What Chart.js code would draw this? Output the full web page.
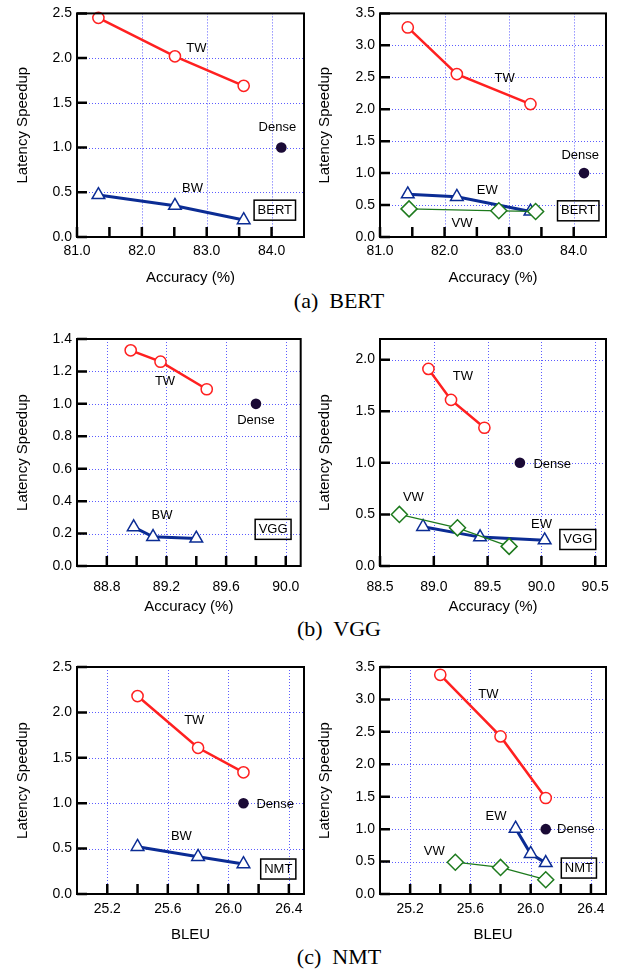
<!DOCTYPE html>
<html>
<head>
<meta charset="utf-8">
<script src="https://cdn.jsdelivr.net/npm/chart.js@4.4.0/dist/chart.umd.min.js"></script>
<style>
  body { margin: 0; background: #fff; width: 626px; height: 972px; position: relative; overflow: hidden; }
  canvas { position: absolute; }
  .cap { position: absolute; left: 0; width: 678px; text-align: center; font-family: "Liberation Serif", serif; font-size: 22px; line-height: 22px; color: #000; }
</style>
</head>
<body>
<canvas id="c1" width="313" height="287" style="left:0;top:0"></canvas>
<canvas id="c2" width="313" height="287" style="left:313px;top:0"></canvas>
<div class="cap" style="top:290px">(a)&nbsp; BERT</div>
<canvas id="c3" width="313" height="296" style="left:0;top:320px"></canvas>
<canvas id="c4" width="313" height="296" style="left:313px;top:320px"></canvas>
<div class="cap" style="top:618px">(b)&nbsp; VGG</div>
<canvas id="c5" width="313" height="304" style="left:0;top:640px"></canvas>
<canvas id="c6" width="313" height="304" style="left:313px;top:640px"></canvas>
<div class="cap" style="top:946px">(c)&nbsp; NMT</div>
<script>
// (a) BERT, left
const bertTwAcc = [81.33, 82.51, 83.57];
const bertTwSpeed = [2.45, 2.02, 1.69];
const bertBwAcc = [81.33, 82.51, 83.57];
const bertBwSpeed = [0.47, 0.35, 0.19];
const bertDenseAcc = [84.15];
const bertDenseSpeed = [1.0];
// (a) BERT, right
const bert2TwAcc = [81.43, 82.19, 83.33];
const bert2TwSpeed = [3.28, 2.55, 2.08];
const bert2EwAcc = [81.43, 82.19, 83.33];
const bert2EwSpeed = [0.67, 0.63, 0.40];
const bert2VwAcc = [81.45, 82.84, 83.41];
const bert2VwSpeed = [0.44, 0.41, 0.40];
const bert2DenseAcc = [84.16];
const bert2DenseSpeed = [1.0];
// (b) VGG, left
const vggTwAcc = [88.96, 89.16, 89.47];
const vggTwSpeed = [1.33, 1.26, 1.09];
const vggBwAcc = [88.98, 89.11, 89.40];
const vggBwSpeed = [0.24, 0.18, 0.17];
const vggDenseAcc = [89.80];
const vggDenseSpeed = [1.0];
// (b) VGG, right
const vgg2TwAcc = [88.95, 89.16, 89.47];
const vgg2TwSpeed = [1.91, 1.61, 1.34];
const vgg2EwAcc = [88.90, 89.43, 90.03];
const vgg2EwSpeed = [0.38, 0.28, 0.25];
const vgg2VwAcc = [88.68, 89.22, 89.70];
const vgg2VwSpeed = [0.50, 0.37, 0.19];
const vgg2DenseAcc = [89.80];
const vgg2DenseSpeed = [1.0];
// (c) NMT, left
const nmtTwBleu = [25.4, 25.8, 26.1];
const nmtTwSpeed = [2.18, 1.61, 1.34];
const nmtBwBleu = [25.4, 25.8, 26.1];
const nmtBwSpeed = [0.52, 0.41, 0.33];
const nmtDenseBleu = [26.1];
const nmtDenseSpeed = [1.0];
// (c) NMT, right
const nmt2TwBleu = [25.4, 25.8, 26.1];
const nmt2TwSpeed = [3.38, 2.43, 1.48];
const nmt2EwBleu = [25.9, 26.0, 26.1];
const nmt2EwSpeed = [1.01, 0.62, 0.48];
const nmt2VwBleu = [25.5, 25.8, 26.1];
const nmt2VwSpeed = [0.49, 0.41, 0.22];
const nmt2DenseBleu = [26.1];
const nmt2DenseSpeed = [1.0];

// tick labels
const bertAccTicks = [81.0, 82.0, 83.0, 84.0];
const bertAccMinor = [81.5, 82.5, 83.5];
const bertSpeedTicks = [0.0, 0.5, 1.0, 1.5, 2.0, 2.5];
const bert2SpeedTicks = [0.0, 0.5, 1.0, 1.5, 2.0, 2.5, 3.0, 3.5];
const vggAccTicks = [88.8, 89.2, 89.6, 90.0];
const vggAccMinor = [89.0, 89.4, 89.8];
const vggSpeedTicks = [0.0, 0.2, 0.4, 0.6, 0.8, 1.0, 1.2, 1.4];
const vgg2AccTicks = [88.5, 89.0, 89.5, 90.0, 90.5];
const vgg2SpeedTicks = [0.0, 0.5, 1.0, 1.5, 2.0];
const nmtBleuTicks = [25.2, 25.6, 26.0, 26.4];
const nmtBleuMinor = [25.4, 25.8, 26.2];
const nmtSpeedTicks = [0.0, 0.5, 1.0, 1.5, 2.0, 2.5];
const nmt2SpeedTicks = [0.0, 0.5, 1.0, 1.5, 2.0, 2.5, 3.0, 3.5];

Chart.defaults.font.family = '"Liberation Sans", Arial, sans-serif';
Chart.defaults.color = '#000';

const RED = '#ff2020', NAVY = '#0b2c94', GREEN = '#1d7a1d', DENSE = '#1a0a35';

function pts(xs, ys) { return xs.map((x, i) => ({ x: x, y: ys[i] })); }

function tw(xs, ys) {
    return { data: pts(xs, ys), showLine: true, borderColor: RED, borderWidth: 2.5,
        pointStyle: 'circle', pointRadius: 5.6, pointBorderWidth: 1.5,
        pointBorderColor: RED, pointBackgroundColor: '#fff', order: 3 };
}
function tri(xs, ys) {
    return { data: pts(xs, ys), showLine: true, borderColor: NAVY, borderWidth: 3,
        pointStyle: 'triangle', pointRadius: 7.3, pointBorderWidth: 1.5,
        pointBorderColor: NAVY, pointBackgroundColor: '#fff', order: 2 };
}
function dia(xs, ys) {
    return { data: pts(xs, ys), showLine: true, borderColor: GREEN, borderWidth: 1.3,
        pointStyle: 'rectRot', pointRadius: 8, pointBorderWidth: 1.5,
        pointBorderColor: GREEN, pointBackgroundColor: '#fff', order: 1 };
}
function dense(xs, ys) {
    return { data: pts(xs, ys), showLine: false, pointStyle: 'circle', pointRadius: 5.3,
        pointBorderWidth: 0, pointBackgroundColor: DENSE, order: 0 };
}

// grid, frame, inner ticks and in-plot notes
const framePlugin = {
    id: 'frame',
    beforeDatasetsDraw(chart, args, opts) {
        const { ctx, chartArea: a, scales: { x, y } } = chart;
        ctx.save();
        ctx.strokeStyle = '#5c5cff';
        ctx.lineWidth = 1;
        ctx.setLineDash([1, 2]);
        ctx.beginPath();
        opts.xMajor.forEach(v => {
            const px = Math.round(x.getPixelForValue(v)) + 0.5;
            if (px > a.left + 2 && px < a.right - 2) { ctx.moveTo(px, a.top); ctx.lineTo(px, a.bottom); }
        });
        opts.yMajor.forEach(v => {
            const py = Math.round(y.getPixelForValue(v)) + 0.5;
            if (py > a.top + 2 && py < a.bottom - 2) { ctx.moveTo(a.left, py); ctx.lineTo(a.right, py); }
        });
        ctx.stroke();
        ctx.restore();
    },
    afterDatasetsDraw(chart, args, opts) {
        const { ctx, chartArea: a, scales: { x, y } } = chart;
        ctx.save();
        ctx.strokeStyle = '#000';
        ctx.lineWidth = 2;
        ctx.strokeRect(a.left, a.top, a.width, a.height);
        ctx.lineWidth = 2.5;
        ctx.beginPath();
        x.ticks.forEach(t => {
            const px = x.getPixelForValue(t.value);
            ctx.moveTo(px, a.bottom); ctx.lineTo(px, a.bottom - 10);
        });
        y.ticks.forEach(t => {
            const py = y.getPixelForValue(t.value);
            ctx.moveTo(a.left, py); ctx.lineTo(a.left + 10, py);
        });
        ctx.stroke();
        ctx.font = '13px "Liberation Sans", Arial, sans-serif';
        ctx.textAlign = 'center';
        ctx.textBaseline = 'middle';
        ctx.fillStyle = '#000';
        opts.notes.forEach(n => {
            const px = x.getPixelForValue(n.x), py = y.getPixelForValue(n.y);
            ctx.fillText(n.text, px, py);
            if (n.box) {
                const w = ctx.measureText(n.text).width + 7;
                ctx.lineWidth = 1.5;
                ctx.strokeRect(px - w / 2, py - 10, w, 20);
            }
        });
        ctx.restore();
    }
};

function panel(id, p) {
    const xAll = p.xMajor.concat(p.xMinor || []).sort((a, b) => a - b);
    const isMajor = v => p.xMajor.some(m => Math.abs(m - v) < 1e-6);
    return new Chart(document.getElementById(id), {
        type: 'scatter',
        data: { datasets: p.datasets },
        plugins: [framePlugin],
        options: {
            responsive: false,
            animation: false,
            layout: { padding: p.pad },
            plugins: {
                legend: { display: false },
                tooltip: { enabled: false },
                frame: { xMajor: p.xMajor, yMajor: p.yTicks, notes: p.notes }
            },
            clip: false,
            scales: {
                x: {
                    type: 'linear', min: p.xMin, max: p.xMax,
                    afterBuildTicks: s => { s.ticks = xAll.map(v => ({ value: v })); },
                    afterFit: s => { s.height = 50; },
                    grid: { display: false, drawTicks: false },
                    border: { display: false },
                    ticks: { autoSkip: false, maxRotation: 0, padding: p.xTickPad,
                        font: { size: 14 },
                        callback: v => isMajor(v) ? v.toFixed(1) : '' },
                    title: { display: true, text: p.xTitle, font: { size: 15 }, padding: 0 }
                },
                y: {
                    type: 'linear', min: p.yMin, max: p.yMax,
                    afterBuildTicks: s => { s.ticks = p.yTicks.map(v => ({ value: v })); },
                    afterFit: s => { s.width = p.yWidth; },
                    grid: { display: false, drawTicks: false },
                    border: { display: false },
                    ticks: { autoSkip: false, padding: 5, font: { size: 14 },
                        callback: v => v.toFixed(1) },
                    title: { display: true, text: 'Latency Speedup', font: { size: 15 },
                        padding: { top: p.yTitlePad, bottom: 0 } }
                }
            }
        }
    });
}

const leftPad = top => ({ top: top, right: 9, left: 0, bottom: 0 });
const rightPad = top => ({ top: top, right: 20, left: 0, bottom: 0 });

panel('c1', {
    xMin: 81.0, xMax: 84.5, yMin: 0, yMax: 2.5,
    xMajor: bertAccTicks, xMinor: bertAccMinor, yTicks: bertSpeedTicks,
    xTitle: 'Accuracy (%)', pad: leftPad(10), yWidth: 77, yTitlePad: 14, xTickPad: 6,
    datasets: [tw(bertTwAcc, bertTwSpeed), tri(bertBwAcc, bertBwSpeed), dense(bertDenseAcc, bertDenseSpeed)],
    notes: [
        { text: 'TW', x: 82.84, y: 2.11 },
        { text: 'BW', x: 82.78, y: 0.54 },
        { text: 'Dense', x: 84.09, y: 1.22 },
        { text: 'BERT', x: 84.05, y: 0.30, box: true }
    ]
});

panel('c2', {
    xMin: 81.0, xMax: 84.5, yMin: 0, yMax: 3.5,
    xMajor: bertAccTicks, xMinor: bertAccMinor, yTicks: bert2SpeedTicks,
    xTitle: 'Accuracy (%)', pad: rightPad(10), yWidth: 67, yTitlePad: 3, xTickPad: 6,
    datasets: [tw(bert2TwAcc, bert2TwSpeed), tri(bert2EwAcc, bert2EwSpeed),
        dia(bert2VwAcc, bert2VwSpeed), dense(bert2DenseAcc, bert2DenseSpeed)],
    notes: [
        { text: 'TW', x: 82.93, y: 2.48 },
        { text: 'EW', x: 82.66, y: 0.735 },
        { text: 'VW', x: 82.27, y: 0.22 },
        { text: 'Dense', x: 84.10, y: 1.28 },
        { text: 'BERT', x: 84.07, y: 0.41, box: true }
    ]
});

panel('c3', {
    xMin: 88.6, xMax: 90.1, yMin: 0, yMax: 1.4,
    xMajor: vggAccTicks, xMinor: vggAccMinor, yTicks: vggSpeedTicks,
    xTitle: 'Accuracy (%)', pad: leftPad(19), yWidth: 77, yTitlePad: 14, xTickPad: 13,
    datasets: [tw(vggTwAcc, vggTwSpeed), tri(vggBwAcc, vggBwSpeed), dense(vggDenseAcc, vggDenseSpeed)],
    notes: [
        { text: 'TW', x: 89.19, y: 1.137 },
        { text: 'BW', x: 89.17, y: 0.315 },
        { text: 'Dense', x: 89.80, y: 0.896 },
        { text: 'VGG', x: 89.915, y: 0.226, box: true }
    ]
});

panel('c4', {
    xMin: 88.5, xMax: 90.6, yMin: 0, yMax: 2.2,
    xMajor: vgg2AccTicks, xMinor: [], yTicks: vgg2SpeedTicks,
    xTitle: 'Accuracy (%)', pad: rightPad(19), yWidth: 67, yTitlePad: 3, xTickPad: 13,
    datasets: [tw(vgg2TwAcc, vgg2TwSpeed), tri(vgg2EwAcc, vgg2EwSpeed),
        dia(vgg2VwAcc, vgg2VwSpeed), dense(vgg2DenseAcc, vgg2DenseSpeed)],
    notes: [
        { text: 'TW', x: 89.27, y: 1.84 },
        { text: 'VW', x: 88.81, y: 0.662 },
        { text: 'EW', x: 90.0, y: 0.407 },
        { text: 'Dense', x: 90.10, y: 0.989 },
        { text: 'VGG', x: 90.338, y: 0.257, box: true }
    ]
});

panel('c5', {
    xMin: 25.0, xMax: 26.5, yMin: 0, yMax: 2.5,
    xMajor: nmtBleuTicks, xMinor: nmtBleuMinor, yTicks: nmtSpeedTicks,
    xTitle: 'BLEU', pad: leftPad(27), yWidth: 77, yTitlePad: 14, xTickPad: 7,
    datasets: [tw(nmtTwBleu, nmtTwSpeed), tri(nmtBwBleu, nmtBwSpeed), dense(nmtDenseBleu, nmtDenseSpeed)],
    notes: [
        { text: 'TW', x: 25.775, y: 1.909 },
        { text: 'BW', x: 25.69, y: 0.639 },
        { text: 'Dense', x: 26.31, y: 0.991 },
        { text: 'NMT', x: 26.33, y: 0.275, box: true }
    ]
});

panel('c6', {
    xMin: 25.0, xMax: 26.5, yMin: 0, yMax: 3.5,
    xMajor: nmtBleuTicks, xMinor: nmtBleuMinor, yTicks: nmt2SpeedTicks,
    xTitle: 'BLEU', pad: rightPad(27), yWidth: 67, yTitlePad: 3, xTickPad: 7,
    datasets: [tw(nmt2TwBleu, nmt2TwSpeed), tri(nmt2EwBleu, nmt2EwSpeed),
        dia(nmt2VwBleu, nmt2VwSpeed), dense(nmt2DenseBleu, nmt2DenseSpeed)],
    notes: [
        { text: 'TW', x: 25.72, y: 3.08 },
        { text: 'EW', x: 25.77, y: 1.19 },
        { text: 'VW', x: 25.36, y: 0.65 },
        { text: 'Dense', x: 26.30, y: 1.0 },
        { text: 'NMT', x: 26.32, y: 0.40, box: true }
    ]
});
</script>
</body>
</html>
